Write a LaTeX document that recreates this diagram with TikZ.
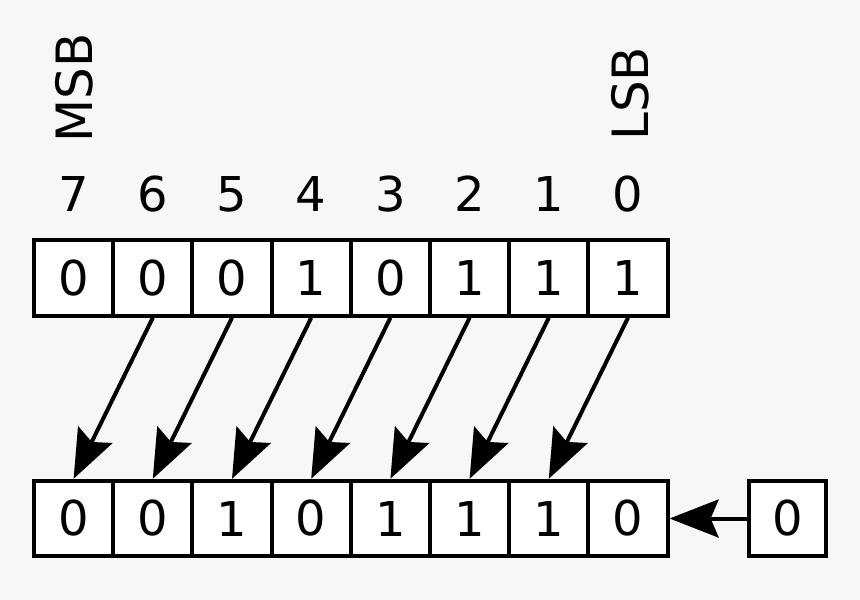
\documentclass[tikz,border=0pt]{standalone}
\usepackage{fontspec}
\setmainfont{DejaVu Sans}
\usetikzlibrary{arrows.meta}
\definecolor{bggray}{HTML}{F7F7F7}

\tikzset{
  bitcell/.style={draw, fill=white, line width=4pt, inner sep=0,
    minimum width=79.2pt, minimum height=75.5pt, font=\fontsize{48}{56}\selectfont},
  bitnum/.style={anchor=base, inner sep=0, font=\fontsize{48}{56}\selectfont},
  sidelabel/.style={anchor=base west, rotate=90, inner sep=0, font=\fontsize{50}{58}\selectfont},
  shiftarrow/.style={line width=4pt, -{Stealth[length=49pt, width=38pt, inset=8pt]}}
}

\begin{document}
\begin{tikzpicture}[x=1pt, y=-1pt]

% Background
\fill[bggray] (0,0) rectangle (860,600);
\useasboundingbox (0,0) rectangle (860,600);

% MSB / LSB
\node[sidelabel] (msb) at (92,143) {MSB};
\node[sidelabel] (lsb) at (648,141) {LSB};

% ---------- bit numbers ----------
\node[bitnum] (n7) at (73.6,211) {7};
\node[bitnum] (n6) at (152.8,211) {6};
\node[bitnum] (n5) at (232,211) {5};
\node[bitnum] (n4) at (311.2,211) {4};
\node[bitnum] (n3) at (390.4,211) {3};
\node[bitnum] (n2) at (469.6,211) {2};
\node[bitnum] (n1) at (548.8,211) {1};
\node[bitnum] (n0) at (628,211) {0};

% ---------- before ----------
\node[bitcell] (t7) at (73.6,278) {0};
\node[bitcell] (t6) at (152.8,278) {0};
\node[bitcell] (t5) at (232,278) {0};
\node[bitcell] (t4) at (311.2,278) {1};
\node[bitcell] (t3) at (390.4,278) {0};
\node[bitcell] (t2) at (469.6,278) {1};
\node[bitcell] (t1) at (548.8,278) {1};
\node[bitcell] (t0) at (628,278) {1};

% ---------- after ----------
\node[bitcell] (b7) at (73.6,518.5) {0};
\node[bitcell] (b6) at (152.8,518.5) {0};
\node[bitcell] (b5) at (232,518.5) {1};
\node[bitcell] (b4) at (311.2,518.5) {0};
\node[bitcell] (b3) at (390.4,518.5) {1};
\node[bitcell] (b2) at (469.6,518.5) {1};
\node[bitcell] (b1) at (548.8,518.5) {1};
\node[bitcell] (b0) at (628,518.5) {0};

% shifted-in bit
\node[bitcell, minimum width=77pt] (fill) at (787.5,518.5) {0};

% ---------- arrows ----------
\draw[shiftarrow] (t6.south) -- (b7.north);
\draw[shiftarrow] (t5.south) -- (b6.north);
\draw[shiftarrow] (t4.south) -- (b5.north);
\draw[shiftarrow] (t3.south) -- (b4.north);
\draw[shiftarrow] (t2.south) -- (b3.north);
\draw[shiftarrow] (t1.south) -- (b2.north);
\draw[shiftarrow] (t0.south) -- (b1.north);
\draw[shiftarrow] (fill.west) -- (b0.east);

\end{tikzpicture}
\end{document}
